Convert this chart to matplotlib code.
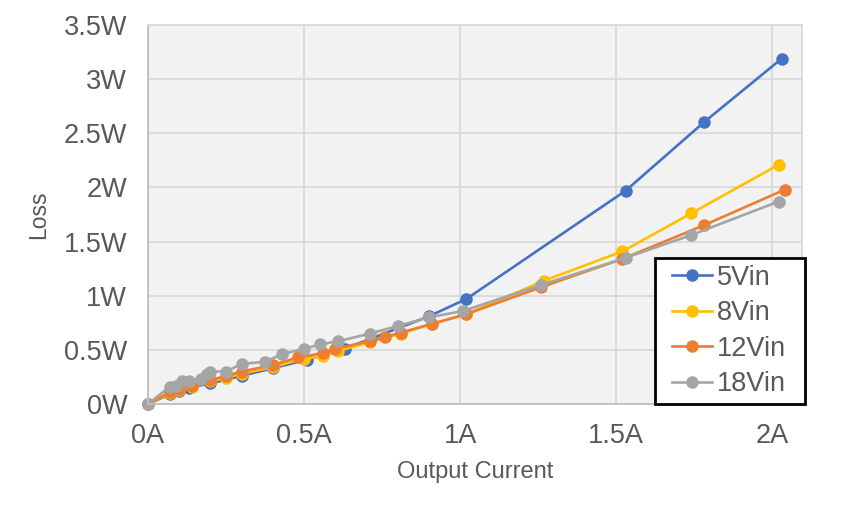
import matplotlib.pyplot as plt
import matplotlib.ticker as mticker
from matplotlib.lines import Line2D
from matplotlib.legend_handler import HandlerLine2D

plt.rcParams['font.family'] = ['Liberation Sans', 'DejaVu Sans']

# measured loss vs output current
x_5v = [0, 0.07, 0.1, 0.13, 0.2, 0.3, 0.4, 0.51, 0.63, 0.9, 1.02, 1.53, 1.78, 2.03]
y_5v = [0, 0.09, 0.12, 0.15, 0.19, 0.26, 0.33, 0.41, 0.51, 0.81, 0.97, 1.97, 2.6, 3.19]

x_8v = [0, 0.07, 0.1, 0.14, 0.2, 0.25, 0.3, 0.4, 0.5, 0.56, 0.61, 0.71, 0.81, 0.91, 1.02, 1.27, 1.52, 1.74, 2.02]
y_8v = [0, 0.1, 0.13, 0.16, 0.21, 0.24, 0.28, 0.34, 0.42, 0.44, 0.49, 0.57, 0.65, 0.74, 0.83, 1.14, 1.41, 1.76, 2.21]

x_12v = [0, 0.07, 0.1, 0.14, 0.2, 0.25, 0.3, 0.4, 0.48, 0.56, 0.6, 0.71, 0.76, 0.81, 0.91, 1.02, 1.26, 1.52, 1.78, 2.04]
y_12v = [0, 0.11, 0.14, 0.17, 0.22, 0.26, 0.3, 0.36, 0.43, 0.47, 0.51, 0.58, 0.62, 0.66, 0.74, 0.83, 1.08, 1.34, 1.65, 1.98]

x_18v = [0, 0.07, 0.09, 0.11, 0.13, 0.17, 0.19, 0.2, 0.25, 0.3, 0.375, 0.43, 0.5, 0.55, 0.61, 0.71, 0.8, 0.9, 1.01, 1.26, 1.53, 1.74, 2.02]
y_18v = [0, 0.16, 0.17, 0.21, 0.21, 0.23, 0.28, 0.3, 0.3, 0.37, 0.39, 0.46, 0.51, 0.55, 0.58, 0.65, 0.72, 0.8, 0.86, 1.1, 1.35, 1.56, 1.87]

series = [
    ("5Vin", x_5v, y_5v, "#4472C4"),
    ("8Vin", x_8v, y_8v, "#FFC000"),
    ("12Vin", x_12v, y_12v, "#ED7D31"),
    ("18Vin", x_18v, y_18v, "#A5A5A5"),
]

fig = plt.figure(figsize=(8.53, 5.11), dpi=100)
ax = fig.add_axes([0.1735, 0.2094, 0.7667, 0.7416])
ax.set_facecolor("#F2F2F2")

for name, xs, ys, c in series:
    ax.plot(xs, ys, color=c, lw=1.9, marker='o', ms=8, label=name, clip_on=False)

ax.set_xlim(0, 2.095)
ax.set_ylim(0, 3.5)
ax.xaxis.set_major_locator(mticker.MultipleLocator(0.5))
ax.yaxis.set_major_locator(mticker.MultipleLocator(0.5))
ax.xaxis.set_major_formatter(mticker.FuncFormatter(lambda v, p: f"{v:g}A"))
ax.yaxis.set_major_formatter(mticker.FuncFormatter(lambda v, p: f"{v:g}W"))
ax.grid(True, color="#D9D9D9", lw=1.3)
ax.set_axisbelow(True)
ax.tick_params(length=0, labelsize=19.5, colors="#595959")
ax.tick_params(axis='y', pad=15)
ax.tick_params(axis='x', pad=14)
for s in ax.spines.values():
    s.set_color("#D9D9D9")
    s.set_linewidth(1.3)
ax.spines['left'].set_color("#BFBFBF")
ax.spines['bottom'].set_color("#BFBFBF")

ax.set_xlabel("Output Current", fontsize=17, color="#595959", labelpad=8)
ax.set_ylabel("Loss", fontsize=16.5, color="#595959", labelpad=10)

leg = ax.legend(loc='lower left', bbox_to_anchor=(0.775, 0.0, 0.23, 0.383),
                mode='expand', borderaxespad=0,
                fontsize=19.5, frameon=True, fancybox=False, framealpha=1,
                handlelength=1.85, labelspacing=0.35, handletextpad=0.2,
                borderpad=0.25,
                handler_map={Line2D: HandlerLine2D(xpad=0.37)})
leg.get_frame().set_edgecolor("black")
leg.get_frame().set_linewidth(2)
for t in leg.get_texts():
    t.set_color("#595959")

fig.savefig("out.png", dpi=100)
